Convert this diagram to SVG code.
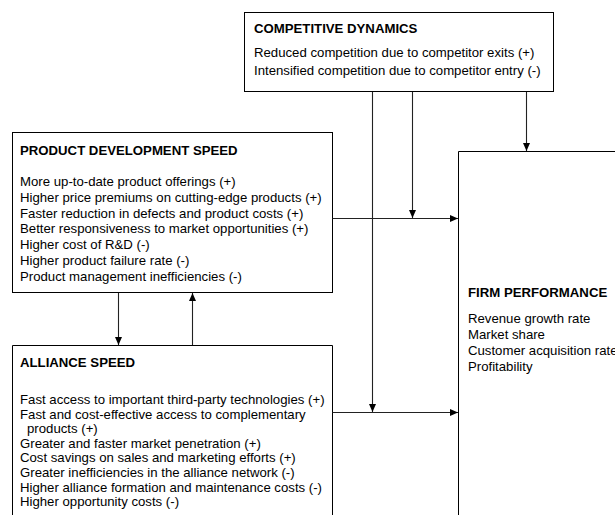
<svg xmlns="http://www.w3.org/2000/svg" width="615" height="515" viewBox="0 0 615 515">
<defs>
<marker id="arr" viewBox="0 0 8 7" refX="8" refY="3.5" markerWidth="8" markerHeight="7" markerUnits="userSpaceOnUse" orient="auto">
<path d="M0,0 L8,3.5 L0,7 z" fill="#000"/>
</marker>
<style>
.box{fill:#fff;stroke:#000;stroke-width:1}
.t{font-family:"Liberation Sans",Arial,sans-serif;font-size:13.2px;font-weight:bold;fill:#000}
.b{font-family:"Liberation Sans",Arial,sans-serif;font-size:13.2px;fill:#000}
.c{stroke:#222;stroke-width:1.1;fill:none}
</style>
</defs>
<rect width="615" height="515" fill="#fff"/>
<g id="competitive-dynamics">
<rect class="box" x="244.5" y="12.5" width="309" height="79"/>
<text class="t" x="254" y="33">COMPETITIVE DYNAMICS</text>
<text class="b" x="254" y="57">Reduced competition due to competitor exits (+)</text>
<text class="b" x="254" y="75">Intensified competition due to competitor entry (-)</text>
</g>
<g id="product-development-speed">
<rect class="box" x="12.5" y="132.5" width="320" height="160"/>
<text class="t" x="20" y="155">PRODUCT DEVELOPMENT SPEED</text>
<text class="b" x="20" y="186">More up-to-date product offerings (+)</text>
<text class="b" x="20" y="201.8">Higher price premiums on cutting-edge products (+)</text>
<text class="b" x="20" y="217.6">Faster reduction in defects and product costs (+)</text>
<text class="b" x="20" y="233.4">Better responsiveness to market opportunities (+)</text>
<text class="b" x="20" y="249.2">Higher cost of R&amp;D (-)</text>
<text class="b" x="20" y="265">Higher product failure rate (-)</text>
<text class="b" x="20" y="280.8">Product management inefficiencies (-)</text>
</g>
<g id="alliance-speed">
<path class="box" d="M12.5,516 V345.5 H332.5 V516"/>
<text class="t" x="20" y="367">ALLIANCE SPEED</text>
<text class="b" x="20" y="404">Fast access to important third-party technologies (+)</text>
<text class="b" x="20" y="418.6">Fast and cost-effective access to complementary</text>
<text class="b" x="27" y="433.2">products (+)</text>
<text class="b" x="20" y="447.8">Greater and faster market penetration (+)</text>
<text class="b" x="20" y="462.4">Cost savings on sales and marketing efforts (+)</text>
<text class="b" x="20" y="477">Greater inefficiencies in the alliance network (-)</text>
<text class="b" x="20" y="491.6">Higher alliance formation and maintenance costs (-)</text>
<text class="b" x="20" y="506.2">Higher opportunity costs (-)</text>
</g>
<g id="firm-performance">
<path class="box" d="M616,151.5 H458.5 V516"/>
<text class="t" x="468" y="297">FIRM PERFORMANCE</text>
<text class="b" x="468" y="323">Revenue growth rate</text>
<text class="b" x="468" y="339">Market share</text>
<text class="b" x="468" y="355">Customer acquisition rate</text>
<text class="b" x="468" y="371">Profitability</text>
</g>
<g id="connectors">
<line class="c" x1="332.5" y1="218.5" x2="458" y2="218.5" marker-end="url(#arr)"/>
<line class="c" x1="332.5" y1="412.5" x2="458" y2="412.5" marker-end="url(#arr)"/>
<line class="c" x1="372.5" y1="92" x2="372.5" y2="412" marker-end="url(#arr)"/>
<line class="c" x1="412.5" y1="92" x2="412.5" y2="218" marker-end="url(#arr)"/>
<line class="c" x1="526.5" y1="92" x2="526.5" y2="151" marker-end="url(#arr)"/>
<line class="c" x1="118.5" y1="293" x2="118.5" y2="345" marker-end="url(#arr)"/>
<line class="c" x1="192.5" y1="345" x2="192.5" y2="293" marker-end="url(#arr)"/>
</g>
</svg>
